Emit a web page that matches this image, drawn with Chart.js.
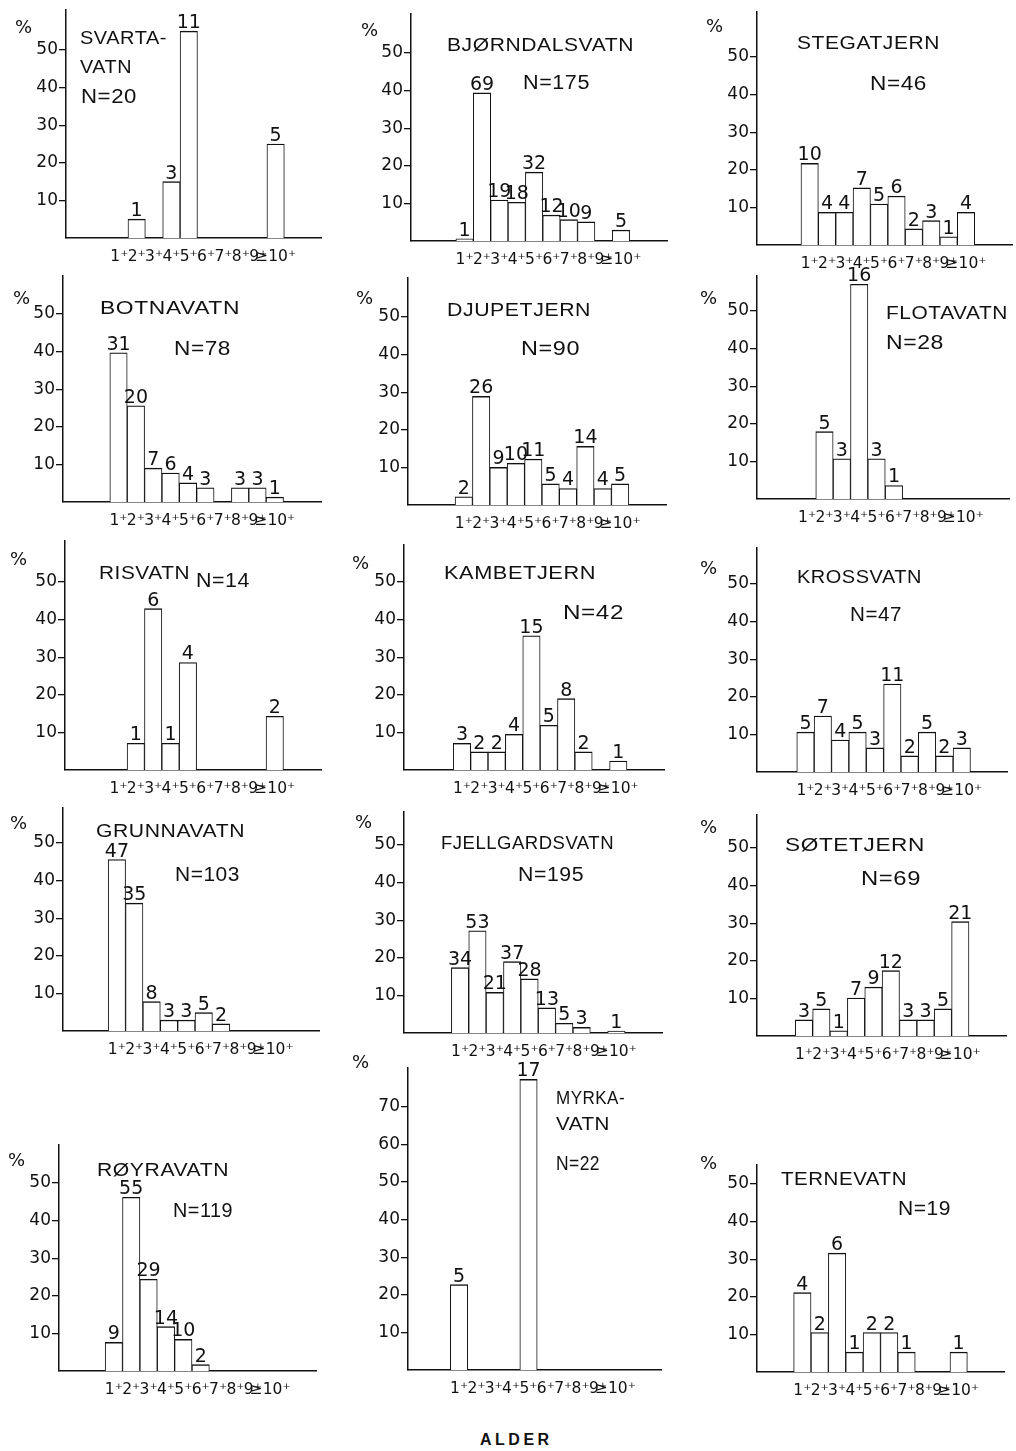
<!DOCTYPE html>
<html lang="no">
<head>
<meta charset="utf-8">
<title>Alder</title>
<script src="https://cdn.jsdelivr.net/npm/chart.js"></script>
<style>
  html, body { margin: 0; padding: 0; background: #fff; }
  #page { position: relative; width: 1016px; height: 1451px; overflow: hidden; font-family: "Liberation Sans", Arial, sans-serif; color: #111; }
  #page canvas { position: absolute; }
  .txt { position: absolute; line-height: 1; white-space: nowrap; transform: translateY(-50%); transform-origin: 0 50%; }
  .title { font-size: 18.5px; letter-spacing: 0.5px; }
  .n { font-size: 19.5px; letter-spacing: 0.5px; }
  .big { font-size: 21px; }
  .pct { font-family: "DejaVu Sans", sans-serif; font-size: 18px; }
  #alder { font-weight: bold; font-size: 16px; letter-spacing: 3.5px; left: 480px; top: 1440px; }
</style>
</head>
<body>
<div id="page"></div>
<script>
const ages = ['1⁺', '2⁺', '3⁺', '4⁺', '5⁺', '6⁺', '7⁺', '8⁺', '9⁺', '≥10⁺'];
const yTicks = [10, 20, 30, 40, 50];
const yTicksTall = [10, 20, 30, 40, 50, 60, 70];

// number of fish in each age group (written over the bars) and the bar height in %
const svartavatnCount = [null, 1, null, 3, 11, null, null, null, null, 5];
const svartavatnPct = [null, 5, null, 15, 55, null, null, null, null, 25];
const bjorndalsvatnCount = [1, 69, 19, 18, 32, 12, 10, 9, null, 5];
const bjorndalsvatnPct = [0.6, 39.4, 10.9, 10.3, 18.3, 6.9, 5.7, 5.1, null, 2.9];
const stegatjernCount = [10, 4, 4, 7, 5, 6, 2, 3, 1, 4];
const stegatjernPct = [21.7, 8.7, 8.7, 15.2, 10.9, 13.0, 4.3, 6.5, 2.2, 8.7];
const botnavatnCount = [31, 20, 7, 6, 4, 3, null, 3, 3, 1];
const botnavatnPct = [39.7, 25.6, 9.0, 7.7, 5.1, 3.8, null, 3.8, 3.8, 1.3];
const djupetjernCount = [2, 26, 9, 10, 11, 5, 4, 14, 4, 5];
const djupetjernPct = [2.2, 28.9, 10.0, 11.1, 12.2, 5.6, 4.4, 15.6, 4.4, 5.6];
const flotavatnCount = [null, 5, 3, 16, 3, 1, null, null, null, null];
const flotavatnPct = [null, 17.9, 10.7, 57.1, 10.7, 3.6, null, null, null, null];
const risvatnCount = [null, 1, 6, 1, 4, null, null, null, null, 2];
const risvatnPct = [null, 7.1, 42.9, 7.1, 28.6, null, null, null, null, 14.3];
const kambetjernCount = [3, 2, 2, 4, 15, 5, 8, 2, null, 1];
const kambetjernPct = [7.1, 4.8, 4.8, 9.5, 35.7, 11.9, 19.0, 4.8, null, 2.4];
const krossvatnCount = [5, 7, 4, 5, 3, 11, 2, 5, 2, 3];
const krossvatnPct = [10.6, 14.9, 8.5, 10.6, 6.4, 23.4, 4.3, 10.6, 4.3, 6.4];
const grunnavatnCount = [47, 35, 8, 3, 3, 5, 2, null, null, null];
const grunnavatnPct = [45.6, 34.0, 7.8, 2.9, 2.9, 4.9, 1.9, null, null, null];
const fjellgardsvatnCount = [34, 53, 21, 37, 28, 13, 5, 3, null, 1];
const fjellgardsvatnPct = [17.4, 27.2, 10.8, 19.0, 14.4, 6.7, 2.6, 1.5, null, 0.5];
const sotetjernCount = [3, 5, 1, 7, 9, 12, 3, 3, 5, 21];
const sotetjernPct = [4.3, 7.2, 1.4, 10.1, 13.0, 17.4, 4.3, 4.3, 7.2, 30.4];
const royravatnCount = [9, 55, 29, 14, 10, 2, null, null, null, null];
const royravatnPct = [7.6, 46.2, 24.4, 11.8, 8.4, 1.7, null, null, null, null];
const myrkavatnCount = [5, null, null, null, 17, null, null, null, null, null];
const myrkavatnPct = [22.7, null, null, null, 77.3, null, null, null, null, null];
const ternevatnCount = [4, 2, 6, 1, 2, 2, 1, null, null, 1];
const ternevatnPct = [21.1, 10.5, 31.6, 5.3, 10.5, 10.5, 5.3, null, null, 5.3];

// where each little histogram sits on the page (y-axis x, left edge of the 1+ bar, baseline, axis top, % sign)
// texts: [string, left, middle y, class, width]
const lakes = [
  { counts: svartavatnCount, pct: svartavatnPct, axisX: 66, bar1: 101.4, base: 238, top: 10, pctAt: [15, 27],
    texts: [['SVARTA-', 80, 38, 'title', 87], ['VATN', 80, 67, 'title', 52], ['N=20', 81, 97, 'n', 56]] },
  { counts: bjorndalsvatnCount, pct: bjorndalsvatnPct, axisX: 411, bar1: 446.7, base: 241, top: 14, pctAt: [361, 30],
    texts: [['BJØRNDALSVATN', 447, 45, 'title', 187], ['N=175', 523, 83, 'n', 67]] },
  { counts: stegatjernCount, pct: stegatjernPct, axisX: 757, bar1: 791.7, base: 245, top: 12, pctAt: [706, 26],
    texts: [['STEGATJERN', 797, 43, 'title', 143], ['N=46', 870, 84, 'n', 57]] },
  { counts: botnavatnCount, pct: botnavatnPct, axisX: 63, bar1: 100.7, base: 502, top: 276, pctAt: [13, 298],
    texts: [['BOTNAVATN', 100, 308, 'title', 140], ['N=78', 174, 349, 'n', 57]] },
  { counts: djupetjernCount, pct: djupetjernPct, axisX: 408, bar1: 446, base: 505, top: 278, pctAt: [356, 298],
    texts: [['DJUPETJERN', 447, 310, 'title', 144], ['N=90', 521, 349, 'n', 59]] },
  { counts: flotavatnCount, pct: flotavatnPct, axisX: 757, bar1: 789, base: 499, top: 276, pctAt: [700, 298],
    texts: [['FLOTAVATN', 886, 313, 'title', 122], ['N=28', 886, 343, 'n', 58]] },
  { counts: risvatnCount, pct: risvatnPct, axisX: 65, bar1: 100.5, base: 770, top: 541, pctAt: [10, 559],
    texts: [['RISVATN', 99, 573, 'title', 91], ['N=14', 196, 581, 'n', 54]] },
  { counts: kambetjernCount, pct: kambetjernPct, axisX: 404, bar1: 444.3, base: 769.5, top: 545, pctAt: [352, 563],
    texts: [['KAMBETJERN', 444, 573, 'title', 152], ['N=42', 563, 611, 'n big', 61]] },
  { counts: krossvatnCount, pct: krossvatnPct, axisX: 757, bar1: 787.3, base: 771.7, top: 548, pctAt: [700, 568],
    texts: [['KROSSVATN', 797, 577, 'title', 125], ['N=47', 850, 615, 'n', 52]] },
  { counts: grunnavatnCount, pct: grunnavatnPct, axisX: 63, bar1: 99, base: 1030.7, top: 808, pctAt: [10, 823],
    texts: [['GRUNNAVATN', 96, 831, 'title', 149], ['N=103', 175, 875, 'n', 65]] },
  { counts: fjellgardsvatnCount, pct: fjellgardsvatnPct, axisX: 404, bar1: 442.3, base: 1032.7, top: 812, pctAt: [355, 822],
    texts: [['FJELLGARDSVATN', 441, 843, 'title', 173], ['N=195', 518, 875, 'n', 66]] },
  { counts: sotetjernCount, pct: sotetjernPct, axisX: 757, bar1: 785.7, base: 1036, top: 815, pctAt: [700, 827],
    texts: [['SØTETJERN', 785, 845, 'title', 140], ['N=69', 861, 879, 'n', 60]] },
  { counts: royravatnCount, pct: royravatnPct, axisX: 59, bar1: 96, base: 1371, top: 1145, pctAt: [8, 1160],
    texts: [['RØYRAVATN', 97, 1170, 'title', 132], ['N=119', 173, 1211, 'n', 60]] },
  { counts: myrkavatnCount, pct: myrkavatnPct, axisX: 408, bar1: 441, base: 1370, top: 1068, ticks: yTicksTall, pctAt: [352, 1062],
    texts: [['MYRKA-', 556, 1098, 'title', 69], ['VATN', 556, 1124, 'title', 54], ['N=22', 556, 1164, 'n', 44]] },
  { counts: ternevatnCount, pct: ternevatnPct, axisX: 757, bar1: 784, base: 1372, top: 1165, pctAt: [700, 1163],
    texts: [['TERNEVATN', 781, 1179, 'title', 126], ['N=19', 898, 1209, 'n', 53]] }
];

const page = document.getElementById('page');
const CAT = 19.3, PX = 3.76, LEFT = 48, PADT = 26, BOT = 26, RIGHT = 4;

const countLabels = {
  id: 'countLabels',
  afterDatasetsDraw(chart, args, opts) {
    const ctx = chart.ctx;
    const meta = chart.getDatasetMeta(0);
    ctx.save();
    ctx.font = '19px "DejaVu Sans"';
    ctx.fillStyle = '#111';
    ctx.textAlign = 'center';
    ctx.textBaseline = 'alphabetic';
    meta.data.forEach((bar, i) => {
      const c = opts.counts[i];
      if (c == null) return;
      ctx.fillText(String(c), bar.x, bar.y - 3);
    });
    ctx.restore();
  }
};

// text placed on the page, stretched sideways to the width it has in the original (wide lettering)
function addText(str, x, y, cls, width) {
  const d = document.createElement('div');
  d.className = 'txt ' + cls;
  d.textContent = str;
  d.style.left = x + 'px';
  d.style.top = y + 'px';
  page.appendChild(d);
  if (width) {
    const w = d.getBoundingClientRect().width;
    const k = Math.min(1.35, Math.max(0.85, width / w));
    d.style.transform = 'translateY(-50%) scaleX(' + k.toFixed(3) + ')';
  }
}

lakes.forEach(l => {
  const xMin = 0.5 - (l.bar1 - l.axisX) / CAT;
  const plotW = Math.round((11.9 - xMin) * CAT);
  const plotH = Math.round(l.base - l.top);
  const cv = document.createElement('canvas');
  cv.width = LEFT + plotW + RIGHT;
  cv.height = PADT + plotH + BOT;
  cv.style.left = (l.axisX - LEFT) + 'px';
  cv.style.top = (l.base - plotH - PADT) + 'px';
  page.appendChild(cv);

  new Chart(cv, {
    type: 'bar',
    data: {
      datasets: [{
        data: l.pct.map((v, i) => ({ x: i + 1, y: v })),
        backgroundColor: '#ffffff',
        borderColor: '#111',
        borderWidth: { top: 1.4, left: 1, right: 1, bottom: 0 },
        barPercentage: 1,
        categoryPercentage: 1
      }]
    },
    options: {
      responsive: false,
      animation: false,
      devicePixelRatio: 1,
      layout: { padding: { top: PADT, right: RIGHT, left: 0, bottom: 0 } },
      plugins: { legend: { display: false }, tooltip: { enabled: false }, countLabels: { counts: l.counts } },
      scales: {
        x: {
          type: 'linear',
          min: xMin,
          max: xMin + plotW / CAT,
          grid: { display: false },
          border: { display: true, color: '#111', width: 1.5 },
          afterBuildTicks: s => { s.ticks = ages.map((a, i) => ({ value: i + 1 })); },
          afterFit: s => { s.height = BOT; s.paddingLeft = 0; s.paddingRight = 0; },
          ticks: {
            autoSkip: false, maxRotation: 0, padding: 2,
            color: '#111', font: { family: 'DejaVu Sans', size: 15.5 },
            callback: v => ages[Math.round(v) - 1]
          }
        },
        y: {
          min: 0,
          max: plotH / PX,
          grid: { drawOnChartArea: false, drawTicks: true, tickLength: 7, color: '#111', lineWidth: 1.3 },
          border: { display: true, color: '#111', width: 1.5 },
          afterBuildTicks: s => { s.ticks = (l.ticks || yTicks).map(v => ({ value: v })); },
          afterFit: s => { s.width = LEFT; s.paddingTop = 0; s.paddingBottom = 0; },
          ticks: { padding: 1, color: '#111', font: { family: 'DejaVu Sans', size: 17 } }
        }
      }
    },
    plugins: [countLabels]
  });

  addText('%', l.pctAt[0], l.pctAt[1], 'pct');
  l.texts.forEach(t => addText(t[0], t[1], t[2], t[3], t[4]));
});

const alder = document.createElement('div');
alder.id = 'alder';
alder.className = 'txt';
alder.textContent = 'ALDER';
page.appendChild(alder);
</script>
</body>
</html>
